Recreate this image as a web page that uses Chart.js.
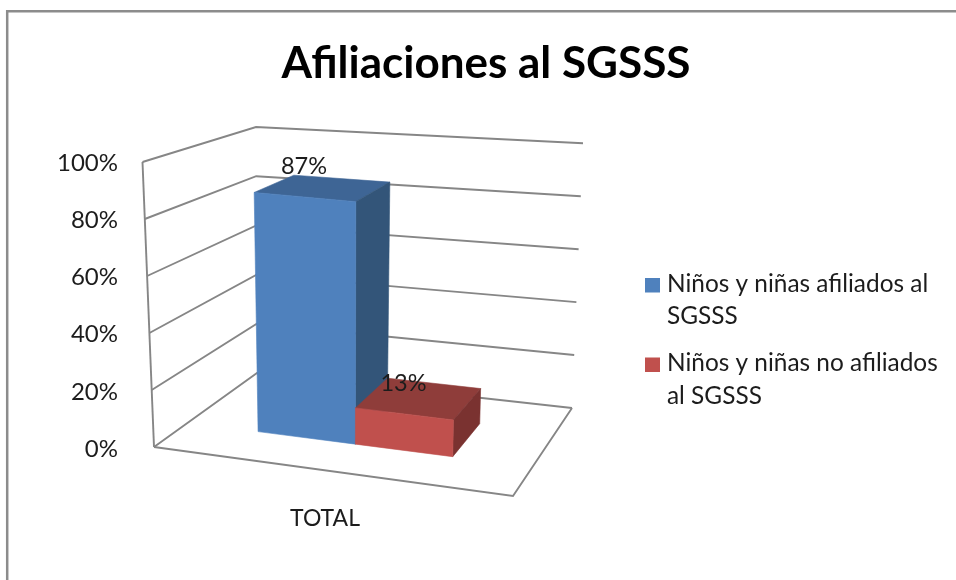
<!DOCTYPE html>
<html>
<head>
<meta charset="utf-8">
<style>html,body{margin:0;padding:0;background:#fff}#w{position:absolute;left:0;top:0;width:956px;height:580px}canvas{filter:blur(0.45px)}</style>
<script src="https://cdn.jsdelivr.net/npm/chart.js@4"></script>
</head>
<body>
<div id="w"><canvas id="c" width="956" height="580"></canvas></div>
<script>
const categories = ["TOTAL"];
const chartTitle = "Afiliaciones al SGSSS";
const afiliados = [87];
const noAfiliados = [13];
const legendAfiliados = ["Niños y niñas afiliados al", "SGSSS"];
const legendNoAfiliados = ["Niños y niñas no afiliados", "al SGSSS"];
const yMax = 100;
const yStep = 20;

const TEXT = "#1c1c1c", GRID = "#868686", FONT = "Lato";
const BOX = {
  floor: {fl:[154,447], fr:[513,496], bl:[257,373], br:[572,408]},
  top:   {fl:[142.5,162], fr:[521.5,200], bl:[256,127], br:[583,143.3]}
};
const DEPTH_FRONT = 0.33, DEPTH_BACK = 0.72, U_SHIFT = -0.014;
const SHADES = [
  {front:"#4f81bd", top:"#3e6595", side:"#335579"},
  {front:"#c0504d", top:"#8f3d3a", side:"#7a3230"}
];
const mix = (a,b,t)=>a+(b-a)*t;
function corner(c,u,d,i){ return mix(mix(c.fl[i],c.fr[i],u), mix(c.bl[i],c.br[i],u), d); }
function project(u,v,d){
  return [0,1].map(i=>mix(corner(BOX.floor,u,d,i), corner(BOX.top,u,d,i), v));
}
function poly(ctx,pts,fill){
  ctx.beginPath(); pts.forEach((p,i)=>i?ctx.lineTo(p[0],p[1]):ctx.moveTo(p[0],p[1])); ctx.closePath();
  ctx.fillStyle=fill; ctx.fill();
  ctx.strokeStyle=fill; ctx.lineWidth=0.6; ctx.stroke();
}
function line(ctx,pts){
  ctx.beginPath(); pts.forEach((p,i)=>i?ctx.lineTo(p[0],p[1]):ctx.moveTo(p[0],p[1])); ctx.stroke();
}
const scene3d = {
  id:"scene3d",
  beforeDraw(chart){
    const ctx=chart.ctx; ctx.save();
    ctx.strokeStyle="#8c8c8c"; ctx.lineWidth=2.5;
    line(ctx,[[7.2,580],[7.2,11.2],[956,11.2]]);
    ctx.restore();
  },
  beforeDatasetsDraw(chart){
    const {ctx,chartArea:a,scales:{y}}=chart;
    const V=val=>(y.bottom-y.getPixelForValue(val))/(y.bottom-y.top);
    const U=px=>(px-a.left)/(a.right-a.left)+U_SHIFT;
    ctx.save();
    ctx.strokeStyle=GRID; ctx.lineWidth=1.9; ctx.lineJoin="miter";
    y.ticks.forEach(t=>{
      const v=V(t.value);
      line(ctx,[project(0,v,0),project(0,v,1),project(1,v,1)]);
    });
    line(ctx,[project(0,0,0),project(0,1,0)]);
    line(ctx,[project(0,0,0),project(1,0,0),project(1,0,1)]);
    chart.data.datasets.forEach((ds,di)=>{
      const bar=chart.getDatasetMeta(di).data[0], s=SHADES[di];
      const {x,width}=bar.getProps(["x","width"],false);
      const u0=U(x-width/2), u1=U(x+width/2), v=V(ds.data[0]);
      const f=DEPTH_FRONT,b=DEPTH_BACK;
      poly(ctx,[project(u0,v,f),project(u1,v,f),project(u1,v,b),project(u0,v,b)],s.top);
      poly(ctx,[project(u1,0,f),project(u1,v,f),project(u1,v,b),project(u1,0,b)],s.side);
      poly(ctx,[project(u0,0,f),project(u1,0,f),project(u1,v,f),project(u0,v,f)],ds.backgroundColor);
    });
    ctx.fillStyle=TEXT; ctx.font="23.5px "+FONT; ctx.textAlign="center"; ctx.textBaseline="middle";
    chart.data.datasets.forEach((ds,di)=>{
      const bar=chart.getDatasetMeta(di).data[0];
      const {x,width}=bar.getProps(["x","width"],false);
      const p=project(U(x),V(ds.data[0]),DEPTH_FRONT);
      ctx.fillText(ds.data[0]+"%",p[0]-1,p[1]-31);
    });
    // legend
    let ly=283;
    ctx.textAlign="left"; ctx.font="24.4px "+FONT;
    chart.data.datasets.forEach(ds=>{
      ctx.fillStyle=ds.backgroundColor; ctx.fillRect(645,ly-5,15,14.5);
      ctx.fillStyle=TEXT;
      ds.label.forEach((txt,i)=>ctx.fillText(txt,667,ly+1+i*32.5));
      ly+=79.5;
    });
    ctx.restore();
    return false;
  },
  afterLayout(chart){
    const t=chart.titleBlock; t.left=16; t.right=956;
  }
};
new Chart(document.getElementById("c"),{
  type:"bar",
  data:{labels:categories,datasets:[
    {label:legendAfiliados,data:afiliados,backgroundColor:SHADES[0].front,categoryPercentage:0.565,barPercentage:1},
    {label:legendNoAfiliados,data:noAfiliados,backgroundColor:SHADES[1].front,categoryPercentage:0.565,barPercentage:1}
  ]},
  options:{
    responsive:false,animation:false,
    layout:{padding:{left:16,right:436,top:12,bottom:0}},
    plugins:{
      legend:{display:false},tooltip:{enabled:false},
      title:{display:true,text:chartTitle,color:"#000",
        font:{family:FONT,size:44,weight:"bold",lineHeight:1.2},
        padding:{top:25.1,bottom:73.1}}
    },
    scales:{
      x:{grid:{display:false},border:{display:false},
        afterFit(s){s.height=131;},
        ticks:{color:TEXT,font:{family:FONT,size:23},padding:48}},
      y:{min:0,max:yMax,grid:{display:false},border:{display:false},
        afterFit(s){s.width=114;},
        ticks:{stepSize:yStep,color:TEXT,font:{family:FONT,size:24},padding:4,callback:v=>v+"%"}}
    }
  },
  plugins:[scene3d]
});
</script>
</body>
</html>
